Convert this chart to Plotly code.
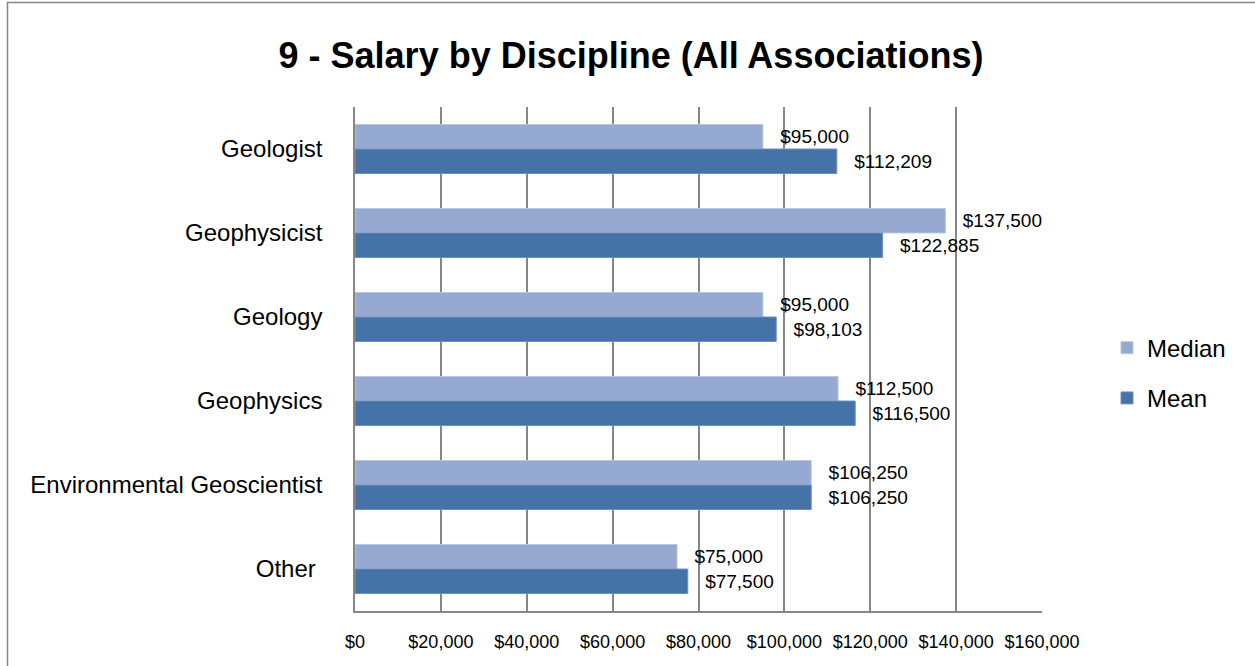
import plotly.graph_objects as go

# --------------------------------------------
# Data
# --------------------------------------------

disciplines = ["Geologist", "Geophysicist", "Geology", "Geophysics",
               "Environmental Geoscientist", "Other "]
median_salary = [95000, 137500, 95000, 112500, 106250, 75000]
mean_salary = [112209, 122885, 98103, 116500, 106250, 77500]
tick_vals = [0, 20000, 40000, 60000, 80000, 100000, 120000, 140000, 160000]
tick_text = ["$0", "$20,000", "$40,000", "$60,000", "$80,000",
             "$100,000", "$120,000", "$140,000", "$160,000"]

W, H = 1255, 666
L, R, T, B = 355, 213, 107, 55
FONT = "Liberation Sans"
pw, ph = W - L - R, H - T - B


def labels(values):
    # leading spaces push the label away from the bar end like in Excel
    return ["\u00a0\u00a0\u2009" + f"${v:,}" for v in values]


fig = go.Figure()

fig.add_trace(go.Bar(
    y=disciplines, x=median_salary, orientation="h", name="Median",
    legendgroup="median",
    marker=dict(color="#95A9D1", line=dict(color="#B9C6E2", width=1)),
    text=labels(median_salary), textposition="outside",
    textfont=dict(size=19, color="#000000", family=FONT),
    cliponaxis=False,
))
fig.add_trace(go.Bar(
    y=disciplines, x=mean_salary, orientation="h", name="Mean",
    legendgroup="mean",
    marker=dict(color="#4572A7", line=dict(color="#6F90BE", width=1)),
    text=labels(mean_salary), textposition="outside",
    textfont=dict(size=19, color="#000000", family=FONT),
    cliponaxis=False,
))

# outer chart border (chart is cropped at right and bottom)
fig.add_shape(
    type="rect", xref="paper", yref="paper", layer="below",
    x0=(7.5 - L) / pw, x1=(1300 - L) / pw,
    y0=-(700 - (H - B)) / ph, y1=1 + (T - 2.5) / ph,
    line=dict(color="#868686", width=1.5), fillcolor="rgba(0,0,0,0)",
)

fig.update_layout(
    width=W, height=H,
    margin=dict(l=L, r=R, t=T, b=B, autoexpand=False),
    paper_bgcolor="white", plot_bgcolor="white",
    font=dict(family=FONT, color="#000000"),
    title=dict(text="<b>9 - Salary by Discipline (All Associations)</b>",
               x=631 / W, xanchor="center", y=1 - 55 / H, yanchor="middle",
               font=dict(size=36, family=FONT, color="#000000")),
    barmode="group", bargap=0.417, bargroupgap=0,
    showlegend=True,
    legend=dict(x=(1107 - L) / pw, xanchor="left", y=0.472, yanchor="middle",
                font=dict(size=24, family=FONT), tracegroupgap=16,
                bgcolor="rgba(0,0,0,0)"),
    xaxis=dict(range=[0, 160000], tickvals=tick_vals, ticktext=tick_text,
               showgrid=True, gridcolor="#868686", gridwidth=1.5,
               showline=True, linecolor="#868686", linewidth=1.5,
               zeroline=False, ticks="", ticklen=0, ticklabelstandoff=14,
               tickfont=dict(size=18, family=FONT)),
    yaxis=dict(autorange="reversed", showgrid=False,
               showline=True, linecolor="#868686", linewidth=1.5,
               ticks="", ticklabelstandoff=26,
               tickfont=dict(size=24, family=FONT)),
)

fig.write_html("out.html", config={"displayModeBar": False},
               post_script="document.body.style.margin = '0px';")
